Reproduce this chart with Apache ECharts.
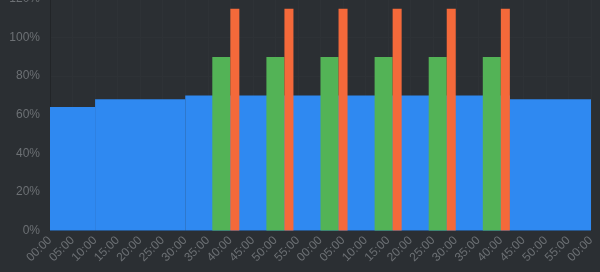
<!DOCTYPE html>
<html>
<head>
<meta charset="utf-8">
<script src="https://cdn.jsdelivr.net/npm/echarts@6/dist/echarts.min.js"></script>
<style>
html,body{margin:0;padding:0;background:#2b2f33;overflow:hidden;}
#chart{width:600px;height:281px;position:relative;top:-7px;}
</style>
</head>
<body>
<div id="chart"></div>
<script>
// minutes from start (two hours, ticks every 5 min)
const blueStart = [0, 10, 30, 102];
const blueEnd = [10, 30, 102, 120];
const blueValue = [64, 68, 70, 68];

const greenStart = [36, 48, 60, 72, 84, 96];
const greenEnd = [40, 52, 64, 76, 88, 100];
const greenValue = [90, 90, 90, 90, 90, 90];

const orangeStart = [40, 52, 64, 76, 88, 100];
const orangeEnd = [42, 54, 66, 78, 90, 102];
const orangeValue = [115, 115, 115, 115, 115, 115];

function build(s, e, v) {
  return s.map((x, i) => [x, e[i], v[i]]);
}
function renderRect(params, api) {
  const p0 = api.coord([api.value(0), api.value(2)]);
  const p1 = api.coord([api.value(1), 0]);
  return {
    type: 'rect',
    shape: { x: p0[0], y: p0[1], width: p1[0] - p0[0], height: p1[1] - p0[1] },
    style: api.style()
  };
}
function pad(n) { return (n < 10 ? '0' : '') + n; }

const chart = echarts.init(document.getElementById('chart'), null, { renderer: 'canvas' });
chart.setOption({
  backgroundColor: '#2b2f33',
  animation: false,
  grid: { left: 50, right: 9, top: 0.5, bottom: 43.5 },
  xAxis: {
    type: 'value', min: 0, max: 120, interval: 5,
    axisLine: { show: true, lineStyle: { color: '#222528' } },
    axisTick: { show: false },
    splitLine: { show: true, lineStyle: { color: '#2e3236' } },
    axisLabel: {
      rotate: 45, color: '#6c7074', fontSize: 12, fontFamily: 'Liberation Sans, Arial, sans-serif',
      margin: 8,
      formatter: v => pad(v % 60) + ':00'
    }
  },
  yAxis: {
    type: 'value', min: 0, max: 120, interval: 20,
    axisLine: { show: true, lineStyle: { color: '#222528' } },
    axisTick: { show: false },
    splitLine: { show: true, lineStyle: { color: '#2e3236' } },
    axisLabel: {
      color: '#6c7074', fontSize: 12, fontFamily: 'Liberation Sans, Arial, sans-serif',
      margin: 10,
      formatter: v => v + '%'
    }
  },
  series: [
    { type: 'custom', renderItem: renderRect, itemStyle: { color: '#2f89f1' },
      encode: { x: [0, 1], y: 2 }, data: build(blueStart, blueEnd, blueValue) },
    { type: 'custom', renderItem: renderRect, itemStyle: { color: '#53b356' },
      encode: { x: [0, 1], y: 2 }, data: build(greenStart, greenEnd, greenValue) },
    { type: 'custom', renderItem: renderRect, itemStyle: { color: '#f4693a' },
      encode: { x: [0, 1], y: 2 }, data: build(orangeStart, orangeEnd, orangeValue) }
  ]
});
</script>
</body>
</html>
